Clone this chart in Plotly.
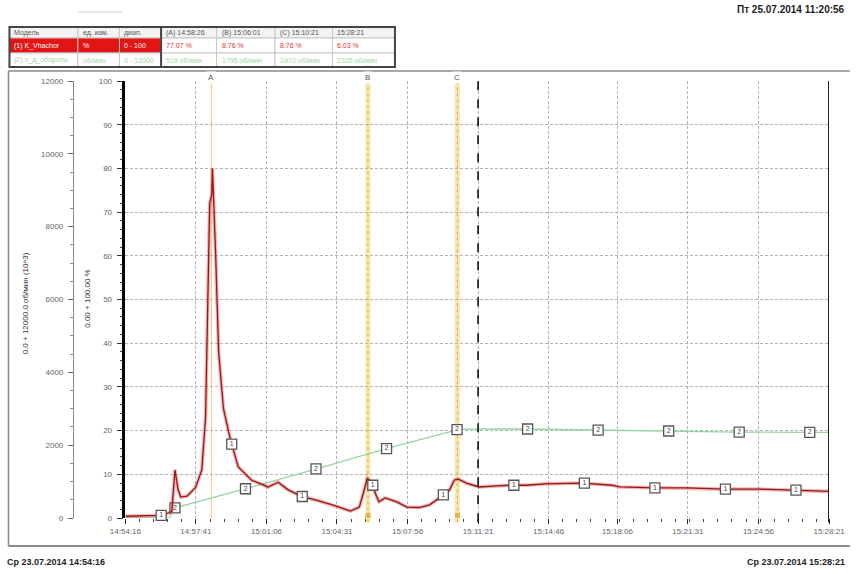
import plotly.graph_objects as go
import numpy as np

DATE = "2014-07-23 "

# ---------------- data ----------------
red_times = ["14:54:16", "14:55:25", "14:56:00", "14:56:23", "14:56:31", "14:56:40", "14:56:49",
             "14:56:57", "14:57:15", "14:57:40", "14:57:58", "14:58:09", "14:58:15", "14:58:21",
             "14:58:27", "14:58:29", "14:58:38", "14:58:47", "14:59:01", "14:59:21", "14:59:44",
             "15:00:22", "15:01:11", "15:01:40", "15:02:08", "15:02:46", "15:03:35", "15:04:18",
             "15:05:10", "15:05:36", "15:05:50", "15:05:59", "15:06:13", "15:06:22", "15:06:33",
             "15:06:51", "15:07:25", "15:07:54", "15:08:31", "15:09:00", "15:09:29", "15:09:58",
             "15:10:12", "15:10:24", "15:10:47", "15:11:07", "15:11:24", "15:12:05", "15:12:51",
             "15:13:40", "15:14:37", "15:16:24", "15:17:50", "15:18:13", "15:19:54", "15:21:29",
             "15:23:16", "15:25:02", "15:26:37", "15:28:21"]
red_values = [0.4, 0.5, 0.6, 1.2, 1.6, 11.0, 6.5,
              4.8, 5.0, 7.0, 11.0, 23.0, 46.0, 72.0,
              74.0, 80.0, 61.0, 38.0, 25.0, 18.0, 11.7,
              8.7, 7.1, 8.2, 6.5, 5.0, 4.0, 3.0,
              1.6, 2.5, 6.4, 9.1, 8.0, 5.7, 3.7,
              4.6, 3.7, 2.5, 2.4, 3.0, 4.6, 6.4,
              8.7, 8.9, 8.0, 7.5, 7.1, 7.3, 7.5,
              7.5, 7.8, 8.0, 7.5, 7.1, 6.9, 6.9,
              6.6, 6.6, 6.4, 6.1]

green_times = ["14:54:16", "14:56:23", "14:56:40", "15:00:04", "15:03:29", "15:06:51", "15:10:09",
               "15:10:24", "15:12:13", "15:13:40", "15:17:01", "15:20:32", "15:23:53", "15:28:21"]
green_values = [0, 0, 280, 800, 1345, 1895, 2390,
                2440, 2444, 2444, 2416, 2390, 2360, 2350]

red_marker_times = ["14:56:00", "14:59:25", "15:02:50", "15:06:15", "15:09:40",
                    "15:13:05", "15:16:30", "15:19:55", "15:23:20", "15:26:45"]
green_marker_times = ["14:56:40", "15:00:05", "15:03:30", "15:06:55", "15:10:20",
                      "15:13:45", "15:17:10", "15:20:35", "15:24:00", "15:27:25"]

x_tick_labels = ["14:54:16", "14:57:41", "15:01:06", "15:04:31", "15:07:56", "15:11:21",
                 "15:14:46", "15:18:06", "15:21:31", "15:24:56", "15:28:21"]

cursor_names = ["A", "B", "C"]
cursor_times = ["14:58:26", "15:06:01", "15:10:21"]
marker_line_time = "15:11:21"

x_start, x_end = "14:54:16", "15:28:21"

table_header = ["Модель", "ед. изм.", "диап.", "(A) 14:58:26", "(B) 15:06:01", "(C) 15:10:21", "15:28:21"]
table_row_red = ["(1) K_Vhachor", "%", "0 - 100", "77.07 %", "8.76 %", "8.76 %", "6.03 %"]
table_row_green = ["(2) n_д_обороты", "об/мин", "0 - 12000", "519 об/мин", "1795 об/мин", "2470 об/мин", "2335 об/мин"]

title_top = "Пт 25.07.2014 11:20:56"
title_bl = "Ср 23.07.2014 14:54:16"
title_br = "Ср 23.07.2014 15:28:21"
rpm_title = "0.0 + 12000.0 об/мин (10^3)"
pct_title = "0.00 + 100.00 %"

# ---------------- helpers ----------------
def dt(t):
    return DATE + t

def secs(t):
    h, m, s = [int(v) for v in t.split(":")]
    return h * 3600 + m * 60 + s

W, H = 857, 574
L, R, T, B = 60, 21, 81, 56
PW, PH = W - L - R, H - T - B

def px(x):
    return (x - L) / PW

def py(y):
    return (H - B - y) / PH

FONT = "Liberation Sans, Arial, sans-serif"

red_s = [secs(t) for t in red_times]
green_s = [secs(t) for t in green_times]
red_mark_vals = np.interp([secs(t) for t in red_marker_times], red_s, red_values)
green_mark_vals = np.interp([secs(t) for t in green_marker_times], green_s, green_values)

fig = go.Figure()

# green series (rpm axis = y)
fig.add_trace(go.Scatter(x=[dt(t) for t in green_times], y=green_values, yaxis="y",
                         mode="lines", line=dict(color="#98d4a2", width=1.3),
                         hoverinfo="skip", showlegend=False))
fig.add_trace(go.Scatter(x=[dt(t) for t in green_marker_times], y=green_mark_vals, yaxis="y",
                         mode="markers+text", text=["2"] * len(green_marker_times),
                         textposition="middle center", textfont=dict(size=7, color="#444", family=FONT),
                         marker=dict(symbol="square", size=10, color="white",
                                     line=dict(color="#555", width=1.3)),
                         hoverinfo="skip", showlegend=False, cliponaxis=False))

# red series (percent axis = y2)
fig.add_trace(go.Scatter(x=[dt(t) for t in red_times], y=red_values, yaxis="y2",
                         mode="lines", line=dict(color="rgba(235,60,60,0.4)", width=3.6),
                         hoverinfo="skip", showlegend=False))
fig.add_trace(go.Scatter(x=[dt(t) for t in red_times], y=red_values, yaxis="y2",
                         mode="lines", line=dict(color="#8e1a1a", width=1.3),
                         hoverinfo="skip", showlegend=False))
fig.add_trace(go.Scatter(x=[dt(t) for t in red_marker_times], y=red_mark_vals, yaxis="y2",
                         mode="markers+text", text=["1"] * len(red_marker_times),
                         textposition="middle center", textfont=dict(size=7, color="#444", family=FONT),
                         marker=dict(symbol="square", size=10, color="white",
                                     line=dict(color="#555", width=1.3)),
                         hoverinfo="skip", showlegend=False, cliponaxis=False))
# cursor foot markers
fig.add_trace(go.Scatter(x=[dt(t) for t in cursor_times[1:]], y=[0.6, 0.6], yaxis="y2",
                         mode="markers", marker=dict(symbol="square", size=5, color="#e8b448"),
                         hoverinfo="skip", showlegend=False, cliponaxis=False))

shapes = []
annotations = []

# cursor lines
for name, t in zip(cursor_names, cursor_times):
    if name == "A":
        shapes.append(dict(type="line", xref="x", yref="paper", x0=dt(t), x1=dt(t), y0=0, y1=1,
                           line=dict(color="#f4cf90", width=1.2), layer="below"))
    else:
        shapes.append(dict(type="line", xref="x", yref="paper", x0=dt(t), x1=dt(t), y0=-0.01, y1=1,
                           line=dict(color="#f7e8b0", width=5), layer="below"))
        shapes.append(dict(type="line", xref="x", yref="paper", x0=dt(t), x1=dt(t), y0=-0.01, y1=1,
                           line=dict(color="#e2a540", width=1, dash="dot"), layer="below"))
    annotations.append(dict(x=dt(t), y=py(78), xref="x", yref="paper", text=name, showarrow=False,
                            font=dict(size=8, color="#555", family=FONT), bgcolor="white",
                            xanchor="center", yanchor="middle"))

# black dashed marker line
shapes.append(dict(type="line", xref="x", yref="paper", x0=dt(marker_line_time), x1=dt(marker_line_time),
                   y0=-0.01, y1=py(74), line=dict(color="#111", width=1.6, dash="dash")))
# right border
shapes.append(dict(type="line", xref="x", yref="paper", x0=dt(x_end), x1=dt(x_end),
                   y0=-0.01, y1=1, line=dict(color="#222", width=2)))

# frame lines
shapes.append(dict(type="line", xref="paper", yref="paper", x0=px(8), x1=px(857), y0=py(71), y1=py(71),
                   line=dict(color="#8a8a8a", width=1.5)))
shapes.append(dict(type="line", xref="paper", yref="paper", x0=px(8), x1=px(857), y0=py(546), y1=py(546),
                   line=dict(color="#8a8a8a", width=2)))
shapes.append(dict(type="line", xref="paper", yref="paper", x0=px(8), x1=px(8), y0=py(71), y1=py(546),
                   line=dict(color="#8a8a8a", width=1.5)))
shapes.append(dict(type="line", xref="paper", yref="paper", x0=px(78), x1=px(123), y0=py(12), y1=py(12),
                   line=dict(color="#cfcfcf", width=1)))

# table
cols = [9, 78, 120, 162, 218, 277, 335, 398]
rows = [27, 38, 53, 67]
for ri, row in enumerate([table_header, table_row_red, table_row_green]):
    y0, y1 = rows[ri], rows[ri + 1]
    for ci, txt in enumerate(row):
        x0, x1 = cols[ci], cols[ci + 1]
        if ri == 0:
            fill, col = "#f3f3f3", "#555"
        elif ri == 1:
            fill, col = ("#e31414", "white") if ci < 3 else ("white", "#e03434")
        else:
            fill, col = "white", "#9fd6a0"
        shapes.append(dict(type="rect", xref="paper", yref="paper", x0=px(x0), x1=px(x1),
                           y0=py(y1), y1=py(y0), fillcolor=fill, line=dict(color="#c6c6c6", width=1)))
        annotations.append(dict(x=px(x0 + 3), y=py((y0 + y1) / 2), xref="paper", yref="paper",
                                text=txt, showarrow=False, xanchor="left", yanchor="middle",
                                font=dict(size=7, color=col, family=FONT)))
shapes.append(dict(type="rect", xref="paper", yref="paper", x0=px(cols[0]), x1=px(cols[-1]),
                   y0=py(rows[-1]), y1=py(rows[0]), line=dict(color="#444", width=2)))
shapes.append(dict(type="line", xref="paper", yref="paper", x0=px(162), x1=px(162),
                   y0=py(rows[-1]), y1=py(rows[0]), line=dict(color="#444", width=2)))

# titles
annotations.append(dict(x=px(854), y=py(10), xref="paper", yref="paper", text="<b>" + title_top + "</b>",
                        showarrow=False, xanchor="right", yanchor="middle",
                        font=dict(size=10, color="#222", family=FONT)))
annotations.append(dict(x=px(5), y=py(562), xref="paper", yref="paper", text="<b>" + title_bl + "</b>",
                        showarrow=False, xanchor="left", yanchor="middle",
                        font=dict(size=9, color="#222", family=FONT)))
annotations.append(dict(x=px(854), y=py(562), xref="paper", yref="paper", text="<b>" + title_br + "</b>",
                        showarrow=False, xanchor="right", yanchor="middle",
                        font=dict(size=9, color="#222", family=FONT)))
annotations.append(dict(x=px(25), y=py(303), xref="paper", yref="paper", text=rpm_title, textangle=-90,
                        showarrow=False, xanchor="center", yanchor="middle",
                        font=dict(size=8, color="#333", family=FONT)))
annotations.append(dict(x=px(87), y=py(298), xref="paper", yref="paper", text=pct_title, textangle=-90,
                        showarrow=False, xanchor="center", yanchor="middle",
                        font=dict(size=8, color="#333", family=FONT)))

tickfont = dict(size=8, color="#666", family=FONT)
GRID = "#b4b4b4"

fig.update_layout(
    width=W, height=H,
    margin=dict(l=L, r=R, t=T, b=B),
    paper_bgcolor="white", plot_bgcolor="white",
    showlegend=False,
    shapes=shapes, annotations=annotations,
    xaxis=dict(type="date", domain=[px(126), 1], range=[dt(x_start), dt(x_end)],
               tickmode="array", tickvals=[dt(t) for t in x_tick_labels], ticktext=x_tick_labels,
               showgrid=True, gridcolor=GRID, griddash="3px,2px", gridwidth=1,
               zeroline=False, showline=False,
               ticks="outside", ticklen=5, tickcolor="#222", tickfont=tickfont,
               minor=dict(dtick=41000, tick0=dt(x_start), ticks="outside", ticklen=3,
                          tickcolor="#444", showgrid=False),
               anchor="y2"),
    yaxis=dict(range=[0, 12000], anchor="free", position=px(73), side="left",
               tickmode="linear", tick0=0, dtick=2000, tickformat="d", showgrid=False, zeroline=False,
               showline=True, linecolor="#888", linewidth=1,
               ticks="outside", ticklen=5, tickcolor="#666", tickfont=tickfont, ticklabelstandoff=3,
               minor=dict(dtick=500, ticks="outside", ticklen=3, tickcolor="#888", showgrid=False)),
    yaxis2=dict(range=[0, 100], overlaying="y", anchor="x", side="left",
                tickmode="linear", tick0=0, dtick=10,
                showgrid=True, gridcolor=GRID, griddash="3px,2px", gridwidth=1, zeroline=False,
                showline=True, linecolor="#000", linewidth=2.5,
                ticks="outside", ticklen=6, tickcolor="#333", tickfont=tickfont, ticklabelstandoff=3,
                minor=dict(dtick=2, ticks="outside", ticklen=3, tickcolor="#333", showgrid=False)),
)

fig.write_html("out.html", config={"displayModeBar": False},
               post_script="document.body.style.margin='0px';document.body.style.overflow='hidden';")
